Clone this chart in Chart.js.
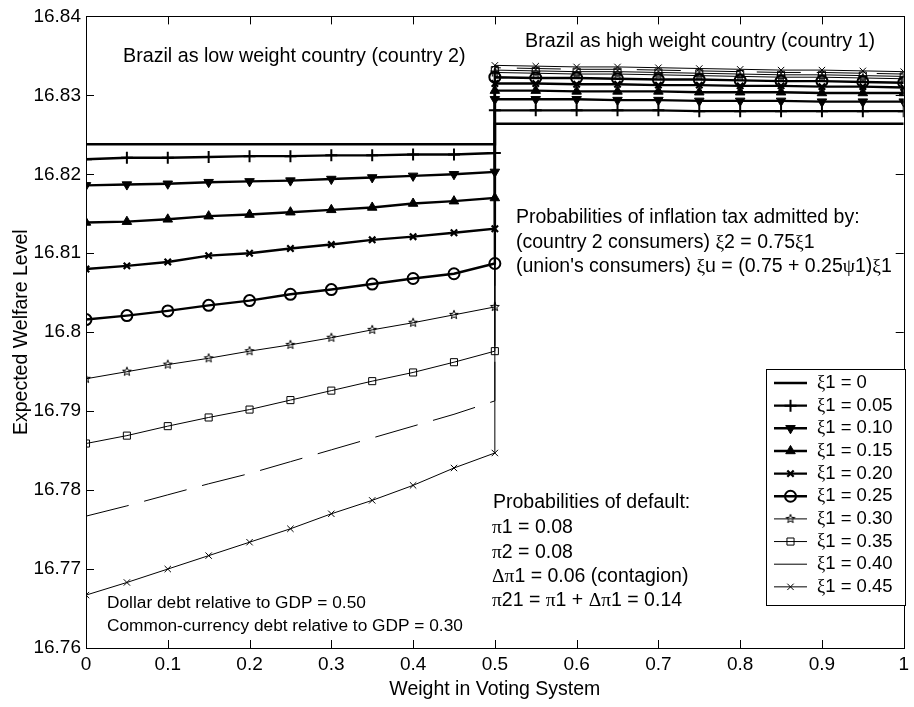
<!DOCTYPE html>
<html>
<head>
<meta charset="utf-8">
<script src="https://cdn.jsdelivr.net/npm/chart.js@4/dist/chart.umd.min.js"></script>
<style>
  html, body { margin: 0; padding: 0; background: #fff; }
  #wrap { width: 914px; height: 707px; }
</style>
</head>
<body>
<div id="wrap"><canvas id="c" width="914" height="707"></canvas></div>
<script>
// Voting weight grid: Brazil as low-weight country (left half) and high-weight country (right half)
const weightLow  = [0, 0.05, 0.1, 0.15, 0.2, 0.25, 0.3, 0.35, 0.4, 0.45, 0.5];
const weightHigh = [0.5, 0.55, 0.6, 0.65, 0.7, 0.75, 0.8, 0.85, 0.9, 0.95, 1];

// Expected welfare, one pair of arrays per inflation-tax probability xi1
const xi000Low  = [16.8238, 16.8238, 16.8238, 16.8238, 16.8238, 16.8238, 16.8238, 16.8238, 16.8238, 16.8238, 16.8238];
const xi000High = [16.8264, 16.8264, 16.8264, 16.8264, 16.8264, 16.8264, 16.8264, 16.8264, 16.8264, 16.8264, 16.8264];
const xi005Low  = [16.8219, 16.8221, 16.8221, 16.8222, 16.8223, 16.8223, 16.8224, 16.8224, 16.8225, 16.8225, 16.8227];
const xi005High = [16.8281, 16.8281, 16.8281, 16.8281, 16.8281, 16.8280, 16.8280, 16.8280, 16.8280, 16.8280, 16.8280];
const xi010Low  = [16.8186, 16.8187, 16.8188, 16.8190, 16.8191, 16.8192, 16.8194, 16.8196, 16.8198, 16.8200, 16.8203];
const xi010High = [16.8295, 16.8295, 16.8295, 16.8294, 16.8294, 16.8293, 16.8293, 16.8293, 16.8292, 16.8292, 16.8292];
const xi015Low  = [16.8139, 16.8140, 16.8143, 16.8147, 16.8149, 16.8152, 16.8155, 16.8158, 16.8163, 16.8166, 16.8170];
const xi015High = [16.8306, 16.8306, 16.8305, 16.8305, 16.8305, 16.8304, 16.8304, 16.8304, 16.8303, 16.8303, 16.8303];
const xi020Low  = [16.8080, 16.8084, 16.8089, 16.8097, 16.8100, 16.8106, 16.8111, 16.8117, 16.8121, 16.8126, 16.8131];
const xi020High = [16.8315, 16.8315, 16.8314, 16.8314, 16.8313, 16.8313, 16.8312, 16.8312, 16.8311, 16.8311, 16.8310];
const xi025Low  = [16.8016, 16.8021, 16.8027, 16.8034, 16.8040, 16.8048, 16.8054, 16.8061, 16.8068, 16.8074, 16.8087];
const xi025High = [16.8323, 16.8322, 16.8322, 16.8321, 16.8320, 16.8320, 16.8319, 16.8318, 16.8318, 16.8317, 16.8316];
const xi030Low  = [16.7941, 16.7950, 16.7959, 16.7967, 16.7976, 16.7984, 16.7993, 16.8003, 16.8012, 16.8022, 16.8032];
const xi030High = [16.8329, 16.8328, 16.8327, 16.8327, 16.8326, 16.8325, 16.8324, 16.8323, 16.8323, 16.8322, 16.8321];
const xi035Low  = [16.7859, 16.7869, 16.7881, 16.7892, 16.7902, 16.7914, 16.7926, 16.7938, 16.7949, 16.7962, 16.7976];
const xi035High = [16.8332, 16.8331, 16.8330, 16.8330, 16.8329, 16.8328, 16.8327, 16.8326, 16.8326, 16.8325, 16.8324];
const xi040Low  = [16.7767, 16.7780, 16.7794, 16.7808, 16.7821, 16.7836, 16.7851, 16.7866, 16.7881, 16.7896, 16.7913];
const xi040High = [16.8335, 16.8334, 16.8333, 16.8333, 16.8332, 16.8331, 16.8330, 16.8329, 16.8329, 16.8328, 16.8327];
const xi045Low  = [16.7667, 16.7683, 16.7700, 16.7717, 16.7734, 16.7751, 16.7770, 16.7787, 16.7806, 16.7828, 16.7847];
const xi045High = [16.8338, 16.8337, 16.8336, 16.8336, 16.8335, 16.8334, 16.8333, 16.8332, 16.8332, 16.8331, 16.8330];

const seriesLabels = ['ξ1 = 0', 'ξ1 = 0.05', 'ξ1 = 0.10', 'ξ1 = 0.15', 'ξ1 = 0.20',
                      'ξ1 = 0.25', 'ξ1 = 0.30', 'ξ1 = 0.35', 'ξ1 = 0.40', 'ξ1 = 0.45'];

const xTickValues = [0, 0.1, 0.2, 0.3, 0.4, 0.5, 0.6, 0.7, 0.8, 0.9, 1];
const xTickLabels = ['0', '0.1', '0.2', '0.3', '0.4', '0.5', '0.6', '0.7', '0.8', '0.9', '1'];
const yTickValues = [16.76, 16.77, 16.78, 16.79, 16.8, 16.81, 16.82, 16.83, 16.84];
const yTickLabels = ['16.76', '16.77', '16.78', '16.79', '16.8', '16.81', '16.82', '16.83', '16.84'];

const FONT = '"Liberation Sans", Arial, sans-serif';
const GREEK_FONT = '"Liberation Serif", "DejaVu Serif", serif';

// five-pointed star marker
function makePentagram(r, lw) {
  const size = Math.ceil(2 * r + lw * 2 + 2);
  const cv = document.createElement('canvas');
  cv.width = size; cv.height = size;
  const g = cv.getContext('2d');
  const c = size / 2;
  g.beginPath();
  for (let k = 0; k < 10; k++) {
    const rr = k % 2 === 0 ? r : r * 0.42;
    const a = -Math.PI / 2 + k * Math.PI / 5;
    const px = c + rr * Math.cos(a), py = c + rr * Math.sin(a);
    if (k === 0) g.moveTo(px, py); else g.lineTo(px, py);
  }
  g.closePath();
  g.lineWidth = lw;
  g.strokeStyle = '#000';
  g.stroke();
  return cv;
}
const pentagram = makePentagram(4.6, 1);

const lowSets  = [xi000Low, xi005Low, xi010Low, xi015Low, xi020Low, xi025Low, xi030Low, xi035Low, xi040Low, xi045Low];
const highSets = [xi000High, xi005High, xi010High, xi015High, xi020High, xi025High, xi030High, xi035High, xi040High, xi045High];

const styles = [
  { borderWidth: 2.6, pointStyle: false, pointRadius: 0 },
  { borderWidth: 2.4, pointStyle: 'cross', pointRadius: 6, pointBorderWidth: 2 },
  { borderWidth: 2.4, pointStyle: 'triangle', rotation: 180, pointRadius: 5.5, pointBorderWidth: 1, fill: '#000' },
  { borderWidth: 2.4, pointStyle: 'triangle', rotation: 0, pointRadius: 5.5, pointBorderWidth: 1, fill: '#000' },
  { borderWidth: 2.4, pointStyle: 'crossRot', pointRadius: 4.5, pointBorderWidth: 2.2 },
  { borderWidth: 2.4, pointStyle: 'circle', pointRadius: 5.5, pointBorderWidth: 2 },
  { borderWidth: 1, pointStyle: pentagram, pointRadius: 5, pointBorderWidth: 1 },
  { borderWidth: 1, pointStyle: 'rect', pointRadius: 5, pointBorderWidth: 1 },
  { borderWidth: 1, pointStyle: false, pointRadius: 0, dash: [44, 16] },
  { borderWidth: 1, pointStyle: 'crossRot', pointRadius: 4.5, pointBorderWidth: 1 }
];

const datasets = seriesLabels.map((label, i) => {
  const s = styles[i];
  const pts = weightLow.map((x, k) => ({ x, y: lowSets[i][k] }))
    .concat(weightHigh.map((x, k) => ({ x, y: highSets[i][k] })));
  return {
    label,
    data: pts,
    borderColor: '#000',
    borderWidth: s.borderWidth,
    borderDash: s.dash || [],
    pointStyle: s.pointStyle,
    pointRadius: s.pointRadius,
    pointHoverRadius: s.pointRadius,
    pointRotation: s.rotation || 0,
    pointBorderColor: '#000',
    pointBorderWidth: s.pointBorderWidth || 1,
    pointBackgroundColor: s.fill || 'rgba(0,0,0,0)',
    tension: 0,
    fill: false
  };
}).reverse();

// text with Greek letters set in a serif face
function drawRich(ctx, text, x, y, size, align) {
  const runs = [];
  for (const ch of text) {
    const g = /[\u0370-\u03FF]/.test(ch);
    if (runs.length && runs[runs.length - 1].g === g) runs[runs.length - 1].t += ch;
    else runs.push({ t: ch, g });
  }
  let total = 0;
  runs.forEach(r => {
    ctx.font = size + 'px ' + (r.g ? GREEK_FONT : FONT);
    r.w = ctx.measureText(r.t).width;
    total += r.w;
  });
  let cx = align === 'center' ? x - total / 2 : x;
  ctx.textAlign = 'left';
  runs.forEach(r => {
    ctx.font = size + 'px ' + (r.g ? GREEK_FONT : FONT);
    ctx.fillText(r.t, cx, y);
    cx += r.w;
  });
}

const notes = [
  { t: 'Brazil as low weight country (country 2)', x: 123, y: 57, s: 19.7 },
  { t: 'Brazil as high weight country (country 1)', x: 525, y: 42, s: 19.7 },
  { t: 'Probabilities of inflation tax admitted by:', x: 516, y: 218, s: 19.5 },
  { t: '(country 2 consumers) ξ2 = 0.75ξ1', x: 516, y: 243, s: 19.5 },
  { t: '(union\'s consumers) ξu = (0.75 + 0.25ψ1)ξ1', x: 516, y: 267, s: 19.5 },
  { t: 'Probabilities of default:', x: 493, y: 503, s: 19.5 },
  { t: 'π1 = 0.08', x: 492, y: 528, s: 19.5 },
  { t: 'π2 = 0.08', x: 492, y: 553, s: 19.5 },
  { t: 'Δπ1 = 0.06 (contagion)', x: 492, y: 577, s: 19.5 },
  { t: 'π21 = π1 + Δπ1 = 0.14', x: 492, y: 601, s: 19.5 },
  { t: 'Dollar debt relative to GDP = 0.50', x: 107, y: 603, s: 17.3 },
  { t: 'Common-currency debt relative to GDP = 0.30', x: 107, y: 626, s: 17.3 }
];

const framePlugin = {
  id: 'frame',
  afterDraw(chart) {
    const ctx = chart.ctx;
    const a = chart.chartArea;
    const xs = chart.scales.x, ys = chart.scales.y;
    ctx.save();
    ctx.strokeStyle = '#000';
    ctx.fillStyle = '#000';
    ctx.lineWidth = 1;
    // inward ticks on all four sides
    const tl = 8;
    ctx.beginPath();
    xTickValues.forEach(v => {
      const px = Math.round(xs.getPixelForValue(v)) + 0.5;
      ctx.moveTo(px, a.bottom); ctx.lineTo(px, a.bottom - tl);
      ctx.moveTo(px, a.top); ctx.lineTo(px, a.top + tl);
    });
    yTickValues.forEach(v => {
      const py = Math.round(ys.getPixelForValue(v)) + 0.5;
      ctx.moveTo(a.left, py); ctx.lineTo(a.left + tl, py);
      ctx.moveTo(a.right, py); ctx.lineTo(a.right - tl, py);
    });
    ctx.stroke();
    ctx.strokeRect(Math.round(a.left) + 0.5, Math.round(a.top) + 0.5,
                   Math.round(a.right - a.left), Math.round(a.bottom - a.top));

    // annotations
    ctx.textBaseline = 'middle';
    notes.forEach(n => drawRich(ctx, n.t, n.x, n.y, n.s, 'left'));

    // axis titles
    ctx.font = '19.5px ' + FONT;
    ctx.textAlign = 'center';
    ctx.fillText('Weight in Voting System', (a.left + a.right) / 2, 690);
    ctx.save();
    ctx.translate(22, (a.top + a.bottom) / 2);
    ctx.rotate(-Math.PI / 2);
    ctx.fillText('Expected Welfare Level', 0, 0);
    ctx.restore();

    // legend box
    const lx = 766, ly = 369, lw = 139, lh = 236;
    ctx.fillStyle = '#fff';
    ctx.fillRect(lx, ly, lw, lh);
    ctx.strokeStyle = '#000';
    ctx.lineWidth = 1;
    ctx.strokeRect(lx + 0.5, ly + 0.5, lw, lh);
    const ordered = chart.data.datasets.slice().reverse();
    ordered.forEach((ds, i) => {
      const y = 383 + i * 22.65;
      ctx.save();
      ctx.strokeStyle = '#000';
      ctx.lineWidth = ds.borderWidth;
      ctx.setLineDash(ds.borderDash || []);
      ctx.beginPath();
      ctx.moveTo(774, y); ctx.lineTo(807, y);
      ctx.stroke();
      ctx.setLineDash([]);
      if (ds.pointStyle) {
        ctx.fillStyle = ds.pointBackgroundColor;
        ctx.strokeStyle = '#000';
        ctx.lineWidth = ds.pointBorderWidth;
        Chart.helpers.drawPoint(ctx, {
          pointStyle: ds.pointStyle, rotation: ds.pointRotation,
          radius: ds.pointRadius, borderWidth: ds.pointBorderWidth
        }, 790.5, y);
      }
      ctx.restore();
      ctx.fillStyle = '#000';
      ctx.textBaseline = 'middle';
      drawRich(ctx, seriesLabels[i], 817, y, 18.5, 'left');
    });
    ctx.restore();
  }
};

new Chart(document.getElementById('c'), {
  type: 'line',
  data: { datasets },
  options: {
    responsive: false,
    animation: false,
    layout: { padding: { left: 0, right: 5, top: 13, bottom: 0 } },
    plugins: { legend: { display: false }, tooltip: { enabled: false } },
    scales: {
      x: {
        type: 'linear', min: 0, max: 1,
        afterBuildTicks: s => { s.ticks = xTickValues.map(v => ({ value: v })); },
        afterFit: s => { s.height = 59; },
        grid: { display: false, drawTicks: false },
        border: { display: false },
        ticks: {
          padding: 5, color: '#000', font: { family: FONT, size: 19 },
          maxRotation: 0, autoSkip: false,
          callback: (v, i) => xTickLabels[i]
        }
      },
      y: {
        type: 'linear', min: 16.76, max: 16.84,
        afterBuildTicks: s => { s.ticks = yTickValues.map(v => ({ value: v })); },
        afterFit: s => { s.width = 86; },
        grid: { display: false, drawTicks: false },
        border: { display: false },
        ticks: {
          padding: 5, color: '#000', font: { family: FONT, size: 19 },
          autoSkip: false,
          callback: (v, i) => yTickLabels[i]
        }
      }
    }
  },
  plugins: [framePlugin]
});
</script>
</body>
</html>
